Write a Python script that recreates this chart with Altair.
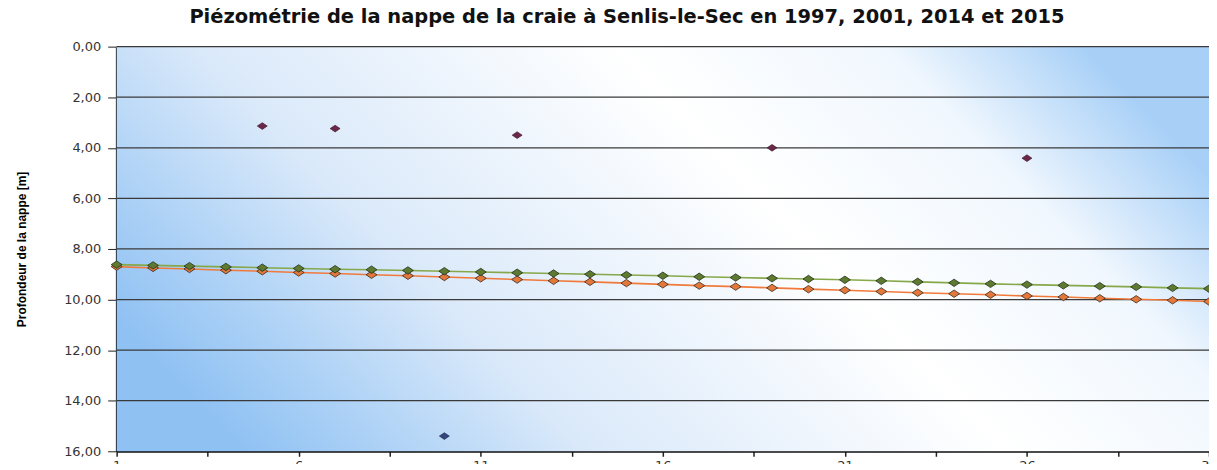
import altair as alt
import pandas as pd

days = list(range(1, 32))
serie_verte = [8.62, 8.65, 8.68, 8.71, 8.74, 8.77, 8.80, 8.82, 8.85, 8.88,
               8.91, 8.94, 8.97, 9.00, 9.03, 9.06, 9.10, 9.13, 9.16, 9.19,
               9.22, 9.26, 9.30, 9.34, 9.38, 9.41, 9.44, 9.47, 9.50, 9.54, 9.57]
serie_orange = [8.70, 8.75, 8.79, 8.84, 8.88, 8.93, 8.97, 9.02, 9.06, 9.11,
                9.16, 9.21, 9.26, 9.30, 9.35, 9.40, 9.45, 9.49, 9.54, 9.59,
                9.63, 9.68, 9.73, 9.77, 9.81, 9.86, 9.90, 9.95, 9.99, 10.03, 10.08]
jours_violet = [5, 7, 12, 19, 26]
prof_violet = [3.14, 3.24, 3.50, 4.00, 4.41]
jours_bleu = [10]
prof_bleu = [15.40]

y_ticks = [0, 2, 4, 6, 8, 10, 12, 14, 16]
x_ticks = [1, 3.5, 6, 8.5, 11, 13.5, 16, 18.5, 21, 23.5, 26, 28.5, 31]

df_v = pd.DataFrame({"jour": days, "prof": serie_verte})
df_o = pd.DataFrame({"jour": days, "prof": serie_orange})
df_p = pd.DataFrame({"jour": jours_violet, "prof": prof_violet})
df_b = pd.DataFrame({"jour": jours_bleu, "prof": prof_bleu})
df_g = pd.DataFrame({"prof": y_ticks[:-1]})

W, H = 1096, 406
diamond = "M-1,0L0,-0.68L1,0L0,0.68Z"

x_scale = alt.Scale(domain=[1, 31], nice=False, zero=False)
y_scale = alt.Scale(domain=[0, 16], reverse=True, nice=False, zero=False)

x_enc = alt.X("jour:Q", scale=x_scale,
              axis=alt.Axis(values=x_ticks, title=None, grid=False,
                            labelExpr="datum.value % 5 == 1 ? datum.label : ''",
                            labelFont="DejaVu Sans", labelFontSize=13,
                            labelColor="#333333", labelPadding=3,
                            tickSize=5, tickColor="#222222", tickWidth=1.5,
                            domainColor="#111111", domainWidth=2,
                            labelFlush=False, labelOverlap=False))
y_enc = alt.Y("prof:Q", scale=y_scale,
              axis=alt.Axis(values=y_ticks, title="Profondeur de la nappe [m]",
                            labelExpr="replace(format(datum.value, '.2f'), '.', ',')",
                            labelFont="DejaVu Sans", labelFontSize=13,
                            labelColor="#333333", labelPadding=7,
                            tickSize=9, tickColor="#222222", tickWidth=1,
                            domainColor="#000000", domainWidth=2.5,
                            grid=False,
                            titleFont="Liberation Sans", titleFontSize=12,
                            titleFontWeight="bold", titleColor="#000000",
                            titlePadding=35, labelOverlap=False))

bg = alt.Gradient(gradient="linear",
                  stops=[alt.GradientStop(color="#8fc1f3", offset=0),
                         alt.GradientStop(color="#aed2f6", offset=0.12),
                         alt.GradientStop(color="#dae9fa", offset=0.28),
                         alt.GradientStop(color="#ffffff", offset=0.62),
                         alt.GradientStop(color="#f0f7fe", offset=0.84),
                         alt.GradientStop(color="#a8d0f7", offset=1.05)],
                  x1=0, y1=0.68, x2=1, y2=0.32)

fond = alt.Chart(df_b).mark_rect(fill=bg, strokeWidth=0).encode(
    x=alt.value(0), x2=alt.value(W), y=alt.value(0), y2=alt.value(H))

grille = alt.Chart(df_g).mark_rule(color="#3a3a3a", strokeWidth=1.2).encode(y=y_enc)

line_o = alt.Chart(df_o).mark_line(color="#f07a3c", strokeWidth=1.6).encode(x=x_enc, y=y_enc)
line_v = alt.Chart(df_v).mark_line(color="#86a84a", strokeWidth=1.6).encode(x=x_enc, y=y_enc)
pts_o = alt.Chart(df_o).mark_point(shape=diamond, size=120, filled=True, fill="#e2783c",
                                    stroke="#3a2a1a", strokeWidth=0.8, opacity=1).encode(x=x_enc, y=y_enc)
pts_v = alt.Chart(df_v).mark_point(shape=diamond, size=120, filled=True, fill="#5e7a30",
                                    stroke="#22301a", strokeWidth=0.8, opacity=1).encode(x=x_enc, y=y_enc)
pts_p = alt.Chart(df_p).mark_point(shape=diamond, size=100, filled=True, fill="#6a2848",
                                    stroke="#3a1028", strokeWidth=0.6, opacity=1).encode(x=x_enc, y=y_enc)
pts_b = alt.Chart(df_b).mark_point(shape=diamond, size=100, filled=True, fill="#34457a",
                                    stroke="#1a2448", strokeWidth=0.6, opacity=1).encode(x=x_enc, y=y_enc)

chart = alt.layer(fond, grille, line_o, line_v, pts_o, pts_v, pts_p, pts_b).properties(
    width=W, height=H,
    autosize=alt.AutoSizeParams(type="none"),
    padding={"left": 109, "top": 38, "right": 0, "bottom": 12},
    title=alt.TitleParams("Piézométrie de la nappe de la craie à Senlis-le-Sec en 1997, 2001, 2014 et 2015",
                          font="DejaVu Sans", fontSize=19.5, fontWeight="bold",
                          color="#111111", anchor="middle", offset=13, dx=-36),
).configure_view(stroke="#9a9a9a", strokeWidth=1).configure(background="#ffffff")

chart.save("out.html", embed_options={"renderer": "svg", "actions": False})
